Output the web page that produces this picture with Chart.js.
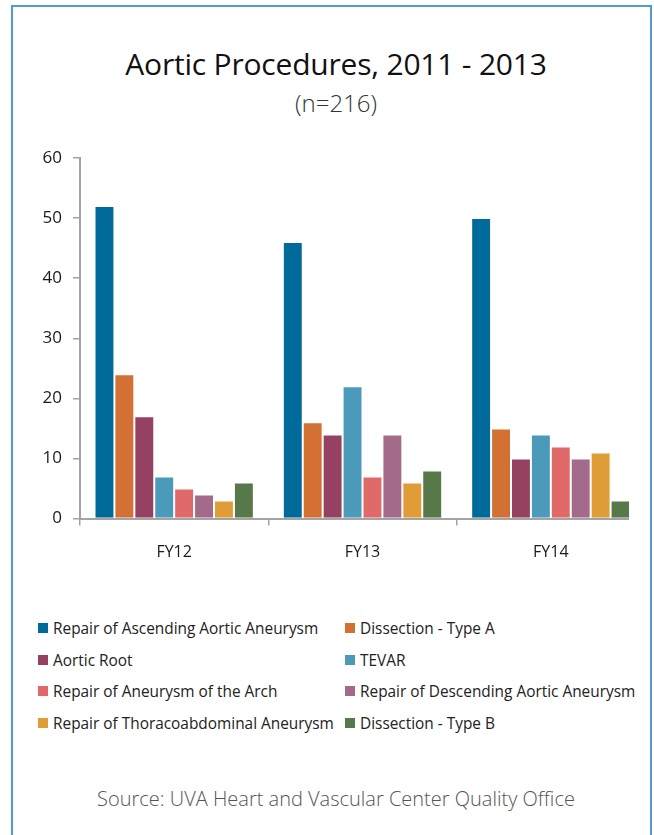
<!DOCTYPE html>
<html>
<head>
<meta charset="utf-8">
<script src="https://cdn.jsdelivr.net/npm/chart.js@4"></script>
<style>
  html, body { margin: 0; padding: 0; background: #fff; }
  body { width: 654px; height: 835px; position: relative; overflow: hidden; font-family: "Open Sans", sans-serif; }
  #frame { position: absolute; left: 11px; top: 5px; width: 637px; height: 840px; border: 2px solid #4f9cd2; box-sizing: content-box; }
  .center { position: absolute; left: 0; width: 672px; text-align: center; white-space: nowrap; }
  #title { top: 49px; font-size: 30px; line-height: 30px; color: #111; letter-spacing: -0.2px; }
  #subtitle { top: 91px; font-size: 24px; line-height: 24px; color: #333; font-weight: 300; }
  #source { top: 789px; font-size: 20px; line-height: 20px; color: #555; font-weight: 300; }
  #plotClip { position: absolute; left: 0; top: 130px; width: 629px; height: 460px; overflow: hidden; }
  #legend { position: absolute; left: 0; top: 0; }
  .item { position: absolute; height: 16px; line-height: 16px; font-size: 15.4px; color: #222; white-space: nowrap; }
  .swatch { position: absolute; width: 10px; height: 10px; top: 2px; }
  .label { position: absolute; top: 0; }
</style>
</head>
<body>
<div id="frame"></div>
<div id="title" class="center">Aortic Procedures, 2011 - 2013</div>
<div id="subtitle" class="center">(n=216)</div>
<div id="plotClip"><canvas id="chart" width="654" height="460"></canvas></div>
<div id="legend"></div>
<div id="source" class="center">Source: UVA Heart and Vascular Center Quality Office</div>
<script>
// Fiscal years on the category axis
const years = ['FY12', 'FY13', 'FY14'];

// Procedure types (one bar series each)
const procedures = [
  'Repair of Ascending Aortic Aneurysm',
  'Dissection - Type A',
  'Aortic Root',
  'TEVAR',
  'Repair of Aneurysm of the Arch',
  'Repair of Descending Aortic Aneurysm',
  'Repair of Thoracoabdominal Aneurysm',
  'Dissection - Type B'
];

// Case counts per procedure, per fiscal year
const ascendingAneurysm   = [52, 46, 50];
const dissectionTypeA     = [24, 16, 15];
const aorticRoot          = [17, 14, 10];
const tevar               = [7, 22, 14];
const archAneurysm        = [5, 7, 12];
const descendingAneurysm  = [4, 14, 10];
const thoracoabdominal    = [3, 6, 11];
const dissectionTypeB     = [6, 8, 3];

const yTicks = [0, 10, 20, 30, 40, 50, 60];

const seriesValues = [ascendingAneurysm, dissectionTypeA, aorticRoot, tevar,
  archAneurysm, descendingAneurysm, thoracoabdominal, dissectionTypeB];

const colors = ['#006a9b', '#d37134', '#954262', '#4b9aba',
  '#e0696a', '#a46a89', '#e09d37', '#577849'];

const datasets = procedures.map((name, i) => ({
  label: name,
  data: seriesValues[i],
  backgroundColor: colors[i],
  borderColor: 'rgba(255,255,255,0.65)',
  borderWidth: 1,
  categoryPercentage: 0.846,
  barPercentage: 1.0
}));

const axisGray = '#a3a3a3';

new Chart(document.getElementById('chart'), {
  type: 'bar',
  data: { labels: years, datasets },
  options: {
    responsive: false,
    animation: false,
    layout: { padding: { left: 0, right: 9, top: 28, bottom: 0 } },
    plugins: { legend: { display: false }, tooltip: { enabled: false } },
    scales: {
      x: {
        grid: { display: true, drawOnChartArea: false, drawTicks: true, tickLength: 7, color: axisGray, lineWidth: 1.5, offset: true },
        border: { display: true, color: axisGray, width: 2 },
        ticks: { color: '#1a1a1a', font: { family: 'Open Sans', size: 16 }, padding: 17 },
        afterFit: s => { s.height = 71.5; }
      },
      y: {
        min: 0, max: 60,
        afterBuildTicks: s => { s.ticks = yTicks.map(v => ({ value: v })); },
        grid: { display: true, drawOnChartArea: false, drawTicks: true, tickLength: 7, color: axisGray, lineWidth: 1.5 },
        border: { display: true, color: axisGray, width: 2 },
        ticks: { color: '#1a1a1a', font: { family: 'Open Sans', size: 17 }, padding: 11 },
        afterFit: s => { s.width = 80; }
      }
    }
  }
});

// Two-column legend built from the same series names and colours
const legend = document.getElementById('legend');
const colX = [38, 345];
const rowY = [629, 661, 692, 724];
procedures.forEach((name, i) => {
  const item = document.createElement('div');
  item.className = 'item';
  item.style.left = colX[i % 2] + 'px';
  item.style.top = (rowY[Math.floor(i / 2)] - 8) + 'px';
  const sw = document.createElement('div');
  sw.className = 'swatch';
  sw.style.left = '0px';
  sw.style.background = colors[i];
  const lb = document.createElement('div');
  lb.className = 'label';
  lb.style.left = '15px';
  lb.textContent = name;
  item.appendChild(sw);
  item.appendChild(lb);
  legend.appendChild(item);
});
</script>
</body>
</html>
